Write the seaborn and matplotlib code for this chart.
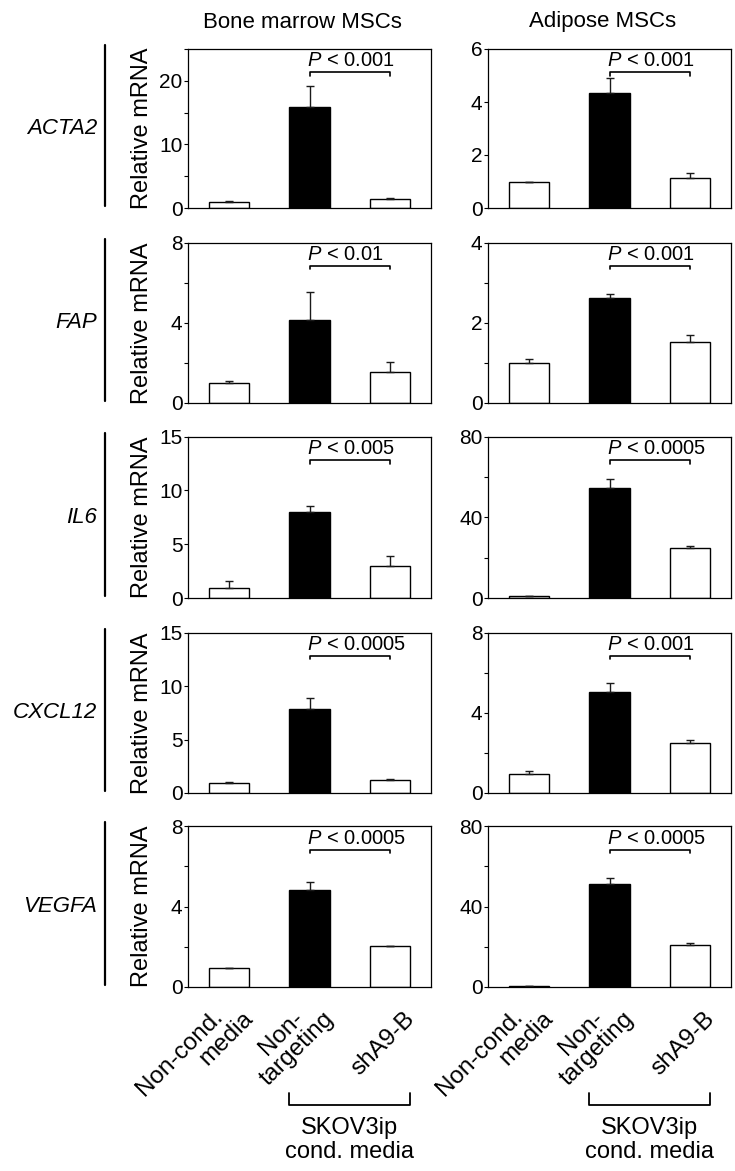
import matplotlib
matplotlib.use('Agg')
import matplotlib.pyplot as plt
import matplotlib.transforms as mtransforms
from matplotlib.lines import Line2D
from matplotlib.ticker import MultipleLocator
import seaborn as sns
import numpy as np
import pandas as pd

sns.set_theme(style='white')
plt.rcParams['font.family'] = ['Liberation Sans', 'DejaVu Sans']
plt.rcParams['mathtext.fontset'] = 'custom'
plt.rcParams['mathtext.it'] = 'Liberation Sans:italic'
plt.rcParams['mathtext.rm'] = 'Liberation Sans'
plt.rcParams['text.color'] = 'black'
plt.rcParams['axes.labelcolor'] = 'black'
plt.rcParams['xtick.color'] = 'black'
plt.rcParams['ytick.color'] = 'black'

# ---------------- data ----------------
groups = ['Non-cond.\nmedia', 'Non-\ntargeting', 'shA9-B']
genes = ['ACTA2', 'FAP', 'IL6', 'CXCL12', 'VEGFA']
column_titles = ['Bone marrow MSCs', 'Adipose MSCs']

bm_acta2_mean = [0.94, 15.9, 1.41]
bm_acta2_err = [0.2, 3.3, 0.2]
ad_acta2_mean = [1.0, 4.35, 1.12]
ad_acta2_err = [0.0, 0.56, 0.19]

bm_fap_mean = [0.98, 4.15, 1.54]
bm_fap_err = [0.13, 1.37, 0.52]
ad_fap_mean = [1.0, 2.62, 1.53]
ad_fap_err = [0.09, 0.10, 0.17]

bm_il6_mean = [0.93, 8.04, 3.0]
bm_il6_err = [0.62, 0.5, 0.87]
ad_il6_mean = [0.8, 54.6, 24.6]
ad_il6_err = [0.0, 4.3, 1.3]

bm_cxcl12_mean = [0.9, 7.84, 1.18]
bm_cxcl12_err = [0.1, 1.0, 0.13]
ad_cxcl12_mean = [0.96, 5.03, 2.49]
ad_cxcl12_err = [0.12, 0.46, 0.15]

bm_vegfa_mean = [0.96, 4.83, 2.03]
bm_vegfa_err = [0.0, 0.37, 0.03]
ad_vegfa_mean = [0.65, 51.3, 20.8]
ad_vegfa_err = [0.0, 2.8, 1.0]

bm_pvals = ['< 0.001', '< 0.01', '< 0.005', '< 0.0005', '< 0.0005']
ad_pvals = ['< 0.001', '< 0.001', '< 0.0005', '< 0.001', '< 0.0005']

bm_ymax = [25, 8, 15, 15, 8]
bm_major = [10, 4, 5, 5, 4]
bm_minor = [5, 2, 5, 5, 2]
ad_ymax = [6, 4, 80, 8, 80]
ad_major = [2, 2, 40, 4, 40]
ad_minor = [2, 1, 20, 2, 20]

bm_means = [bm_acta2_mean, bm_fap_mean, bm_il6_mean, bm_cxcl12_mean, bm_vegfa_mean]
bm_errs = [bm_acta2_err, bm_fap_err, bm_il6_err, bm_cxcl12_err, bm_vegfa_err]
ad_means = [ad_acta2_mean, ad_fap_mean, ad_il6_mean, ad_cxcl12_mean, ad_vegfa_mean]
ad_errs = [ad_acta2_err, ad_fap_err, ad_il6_err, ad_cxcl12_err, ad_vegfa_err]

# ---------------- layout ----------------
W, H = 735, 1171
fig = plt.figure(figsize=(W / 100, H / 100), dpi=100)
row_tops = [49, 242.5, 436.7, 632.5, 826]
row_bottoms = [208, 403, 598, 793, 987]
col_lefts = [188, 488]
col_width = 243

FS_TICK = 15
FS_YLABEL = 17
FS_XLABEL = 17.5
FS_P = 14.5
FS_GENE = 16
FS_TITLE = 16

# per-label line arrangement of the rotated category labels
label_align = ['right', 'center', 'center']


def draw_panel(ax, means, errs, ymax, major, minor, ptext, show_x, show_ylabel):
    df = pd.DataFrame({'group': groups, 'value': means})
    sns.barplot(data=df, x='group', y='value', hue='group',
                palette=['white', 'black', 'white'], edgecolor='black',
                linewidth=1.0, width=0.5, legend=False, errorbar=None, ax=ax)
    x = np.arange(len(groups))
    ax.errorbar(x, means, yerr=[np.zeros(len(errs)), errs], fmt='none',
                ecolor='#1a1a1a', elinewidth=1.0, capsize=3, capthick=1.0, zorder=1)
    ax.set_xlim(-0.51, 2.51)
    ax.set_ylim(0, ymax)
    ax.yaxis.set_major_locator(MultipleLocator(major))
    ax.yaxis.set_minor_locator(MultipleLocator(minor))
    ax.tick_params(axis='y', which='both', direction='out', length=3, width=0.8,
                   pad=1, labelsize=FS_TICK, left=True, colors='black')
    ax.tick_params(axis='x', length=0)
    for s in ax.spines.values():
        s.set_visible(True)
        s.set_color('black')
        s.set_linewidth(0.9)
    ax.set_xlabel('')
    if show_ylabel:
        ax.set_ylabel('Relative mRNA', fontsize=FS_YLABEL)
        ax.yaxis.set_label_coords(-0.144, 0.5)
    else:
        ax.set_ylabel('')
    # significance bracket
    tr = ax.get_xaxis_transform()
    ax.plot([1, 1, 2, 2], [0.832, 0.853, 0.853, 0.832], transform=tr,
            color='black', lw=1.2, clip_on=False)
    ax.text(0.97, 0.925, r'$P$ ' + ptext, transform=tr, ha='left', va='center',
            fontsize=FS_P)
    if show_x:
        ax.tick_params(axis='x', pad=26)
        ax.set_xticks(x)
        shown = [g.replace('Non-cond.\n', 'Non-cond.   \n') for g in groups]
        ax.set_xticklabels(shown)
        offset = mtransforms.ScaledTranslation(0.29, 0, fig.dpi_scale_trans)
        for lab, ma in zip(ax.get_xticklabels(), label_align):
            lab.set_rotation(45)
            lab.set_rotation_mode('anchor')
            lab.set_ha('right')
            lab.set_va('bottom')
            lab.set_multialignment(ma)
            lab.set_linespacing(1.0)
            lab.set_fontsize(FS_XLABEL)
            lab.set_color('black')
            lab.set_transform(lab.get_transform() + offset)
        ax.plot([0.75, 0.75, 2.25, 2.25], [-0.658, -0.733, -0.733, -0.658],
                transform=tr, color='black', lw=1.3, clip_on=False)
        ax.text(1.5, -0.95, 'SKOV3ip\ncond. media', transform=tr, ha='center',
                va='center', fontsize=17, linespacing=1.1)
    else:
        ax.set_xticklabels([])


for r in range(5):
    top, bot = row_tops[r], row_bottoms[r]
    for c in range(2):
        ax = fig.add_axes([col_lefts[c] / W, 1 - bot / H, col_width / W, (bot - top) / H])
        if c == 0:
            draw_panel(ax, bm_means[r], bm_errs[r], bm_ymax[r], bm_major[r], bm_minor[r],
                       bm_pvals[r], r == 4, True)
        else:
            draw_panel(ax, ad_means[r], ad_errs[r], ad_ymax[r], ad_major[r], ad_minor[r],
                       ad_pvals[r], r == 4, False)
    yc = 1 - (top + bot) / 2 / H
    fig.text(97 / W, yc, genes[r], ha='right', va='center', style='italic',
             fontsize=FS_GENE)
    fig.add_artist(Line2D([105 / W, 105 / W], [1 - (top - 4) / H, 1 - (bot - 2) / H],
                          color='black', lw=1.6))

fig.text(302 / W, 1 - 22 / H, column_titles[0], ha='center', va='center', fontsize=FS_TITLE)
fig.text(603 / W, 1 - 22 / H, column_titles[1], ha='center', va='center', fontsize=FS_TITLE)

fig.savefig('out.png', dpi=100)
